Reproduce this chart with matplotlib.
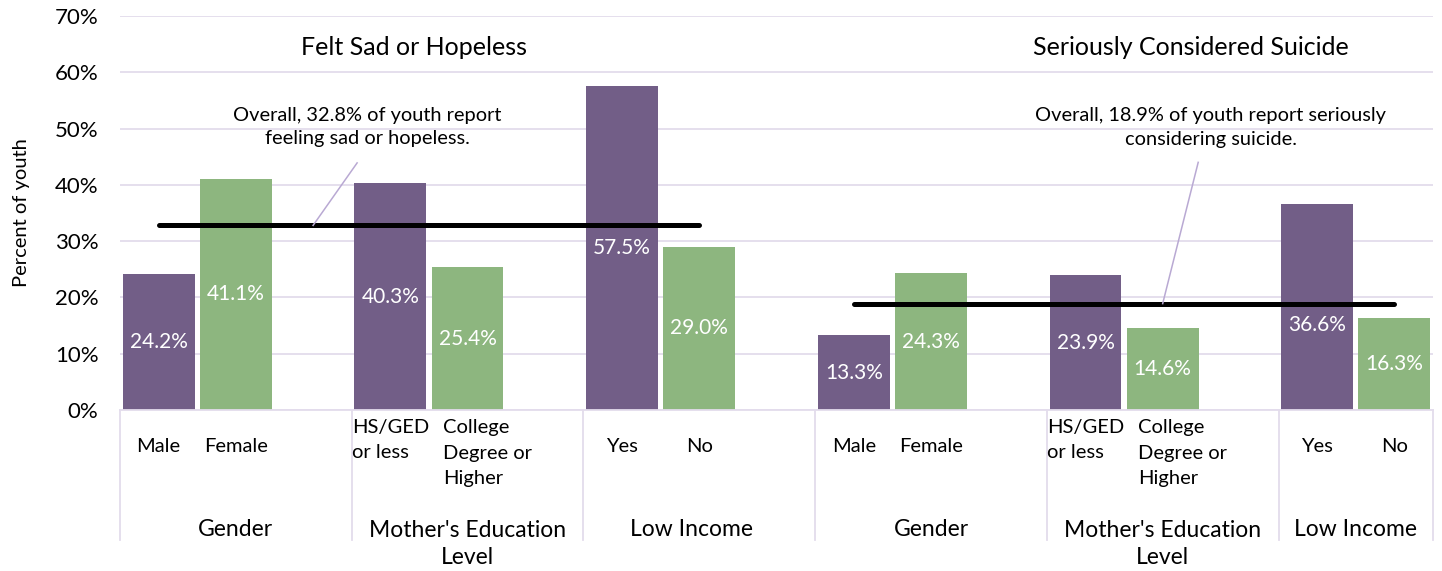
import matplotlib
matplotlib.use("Agg")
import matplotlib.pyplot as plt
from matplotlib.transforms import blended_transform_factory

# ---- data ----
panels = ["Felt Sad or Hopeless", "Seriously Considered Suicide"]
groups = ["Gender", "Mother's Education\nLevel", "Low Income"]
subcats = [["Male", "Female"],
           ["HS/GED\nor less", "College\nDegree or\nHigher"],
           ["Yes", "No"]]
sad = [24.2, 41.1, 40.3, 25.4, 57.5, 29.0]
suicide = [13.3, 24.3, 23.9, 14.6, 36.6, 16.3]
overall = [32.8, 18.9]
notes = ["Overall, 32.8% of youth report\nfeeling sad or hopeless.",
         "Overall, 18.9% of youth report seriously\nconsidering suicide."]

PURPLE = "#725E87"
GREEN = "#8DB67F"
GRID = "#E3DCEC"
LEAD = "#B9A9D3"

plt.rcParams["font.family"] = ["Lato", "DejaVu Sans"]

fig = plt.figure(figsize=(14.42, 5.71), dpi=100)
ax = fig.add_axes([120 / 1442, 1 - 410 / 571, (1433 - 120) / 1442, (410 - 16) / 571])

# 17 category slots: each group is 2 bars + 1 empty slot (last group has no trailing gap)
values = sad + suicide
pos = []
for p in range(2):
    for g in range(3):
        base = p * 9 + g * 3
        pos += [base, base + 1]
colors = [PURPLE, GREEN] * 6
ax.bar(pos, values, width=0.93, color=colors, zorder=2)

# value labels (white, centred in bar; one nudged below the overall line)
nudge = {10: -3.2}
for i, (x, v) in enumerate(zip(pos, values)):
    ax.text(x, v / 2 + nudge.get(i, 0), f"{v:.1f}%", ha="center", va="center",
            color="white", fontsize=15, zorder=4)

# overall lines
for p in range(2):
    x0, x1 = pos[p * 6], pos[p * 6 + 5]
    ax.plot([x0, x1], [overall[p], overall[p]], color="black", lw=3.6,
            solid_capstyle="round", zorder=3)

ax.set_xlim(-0.5, 16.5)
ax.set_ylim(0, 70)
ax.set_yticks(range(0, 71, 10))
ax.set_yticklabels([f"{t}%" for t in range(0, 71, 10)], fontsize=16)
ax.tick_params(axis="y", length=0, pad=15.5)
ax.set_xticks([])
ax.grid(axis="y", color=GRID, lw=1.3, zorder=0)
ax.set_axisbelow(True)
for s in ["top", "right", "left"]:
    ax.spines[s].set_visible(False)
ax.spines["bottom"].set_color(GRID)
ax.spines["bottom"].set_linewidth(1.3)
ax.set_ylabel("Percent of youth", fontsize=14.5, labelpad=18)

# panel titles
ax.text(3.31, 64.4, panels[0], ha="center", va="center", fontsize=18)
ax.text(13.36, 64.4, panels[1], ha="center", va="center", fontsize=18)

# annotations with leader lines
ax.text(2.7, 50.3, notes[0], ha="center", va="center", fontsize=14.4,
        linespacing=1.45, zorder=5)
ax.plot([2.57, 2.0], [43.9, overall[0]], color=LEAD, lw=1.1, zorder=5)
ax.text(13.62, 50.2, notes[1], ha="center", va="center", fontsize=14.4,
        linespacing=1.45, zorder=5)
ax.plot([13.46, 13.0], [44.0, overall[1]], color=LEAD, lw=1.1, zorder=5)

# multi-level category axis
tr = blended_transform_factory(ax.transData, ax.transAxes)
px = 1 / (410 - 16)  # one pixel in axes units
edges = [-0.5, 2.5, 5.5, 8.5, 11.5, 14.5, 16.5]
for e in edges:
    ax.plot([e, e], [0, -130 * px], color=GRID, lw=1.3, transform=tr, clip_on=False)

for p in range(2):
    for g in range(3):
        k = p * 3 + g
        lo, hi = edges[k], edges[k + 1]
        n = groups[g].count("\n")
        ax.text((lo + hi) / 2 if g != 2 else (lo + min(hi, lo + 3)) / 2 - 0.1 * (p == 0),
                -(120 + n * 14) * px, groups[g], ha="center", va="center",
                fontsize=16.5, linespacing=1.4, transform=tr, clip_on=False)
        for j, lab in enumerate(subcats[g]):
            x = pos[p * 6 + g * 2 + j]
            if "\n" in lab:
                m = lab.count("\n")
                xo = x - 0.32 if j == 1 else x
                ax.text(xo, -(17 + m * 13) * px, lab, ha="left" if j == 1 else "center",
                        va="center", multialignment="left", fontsize=14.5,
                        linespacing=1.6, transform=tr, clip_on=False)
            else:
                ax.text(x, -36 * px, lab, ha="center", va="center", fontsize=14.5,
                        transform=tr, clip_on=False)

fig.savefig("out.png", dpi=100)
